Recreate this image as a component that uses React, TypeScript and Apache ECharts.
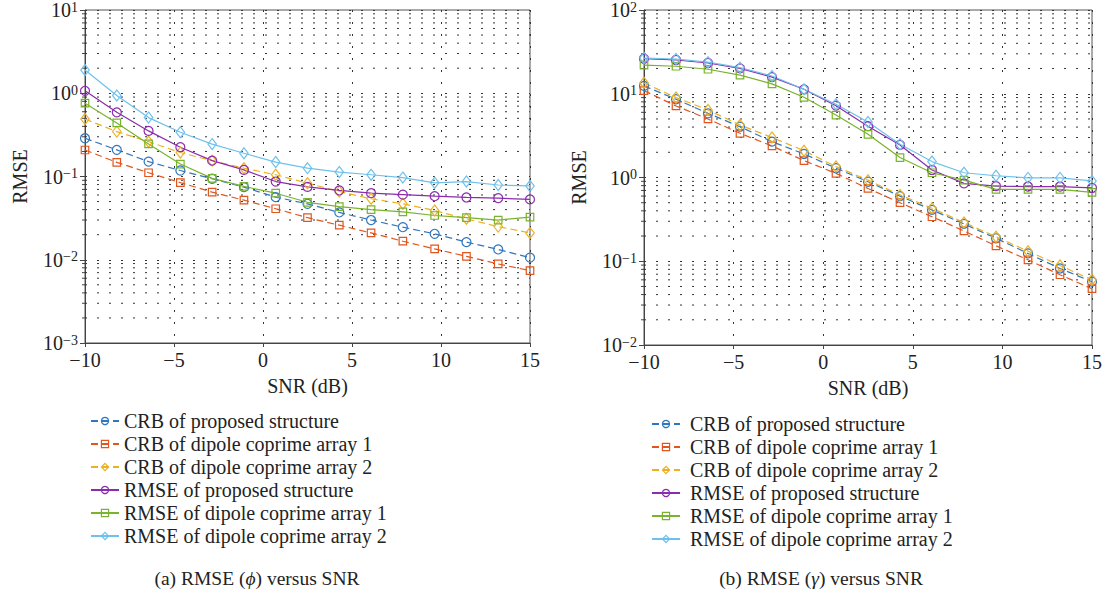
import React, { useEffect, useRef } from "react";
import * as echarts from "echarts";

const FONT = '"Liberation Serif", "Times New Roman", serif';

// SNR (dB) sample points
const snr = [-10, -8.214, -6.429, -4.643, -2.857, -1.071, 0.714, 2.5, 4.286, 6.071, 7.857, 9.643, 11.429, 13.214, 15];

// (a) RMSE (phi)
const phiCrbProposed = [0.288, 0.209, 0.151, 0.118, 0.094, 0.0744, 0.0565, 0.047, 0.037, 0.030, 0.0246, 0.0205, 0.0163, 0.0133, 0.0106];
const phiCrbArr1 = [0.208, 0.148, 0.111, 0.0845, 0.0648, 0.052, 0.041, 0.032, 0.026, 0.021, 0.0167, 0.0135, 0.011, 0.0089, 0.0074];
const phiCrbArr2 = [0.49, 0.346, 0.262, 0.194, 0.155, 0.126, 0.105, 0.083, 0.066, 0.054, 0.047, 0.039, 0.031, 0.025, 0.021];
const phiRmseProposed = [1.07, 0.59, 0.353, 0.225, 0.155, 0.12, 0.087, 0.075, 0.068, 0.063, 0.0605, 0.058, 0.056, 0.055, 0.053];
const phiRmseArr1 = [0.76, 0.44, 0.246, 0.141, 0.095, 0.076, 0.063, 0.049, 0.0435, 0.040, 0.0376, 0.034, 0.032, 0.030, 0.0325];
const phiRmseArr2 = [1.9, 0.94, 0.51, 0.34, 0.245, 0.19, 0.149, 0.126, 0.113, 0.105, 0.097, 0.084, 0.087, 0.079, 0.077];

// (b) RMSE (gamma)
const gamCrbProposed = [12.4, 8.6, 5.84, 4.04, 2.68, 1.91, 1.29, 0.89, 0.60, 0.41, 0.279, 0.188, 0.124, 0.082, 0.057];
const gamCrbArr1 = [10.9, 7.15, 5.0, 3.37, 2.38, 1.59, 1.12, 0.74, 0.50, 0.34, 0.23, 0.153, 0.104, 0.069, 0.047];
const gamCrbArr2 = [13.5, 9.0, 6.4, 4.24, 3.0, 2.09, 1.35, 0.93, 0.62, 0.43, 0.29, 0.196, 0.132, 0.089, 0.060];
const gamRmseProposed = [26.2, 25.3, 23.3, 20.1, 15.8, 11.3, 7.2, 4.1, 2.45, 1.23, 0.85, 0.79, 0.78, 0.78, 0.75];
const gamRmseArr1 = [22, 21.3, 19.6, 16.7, 13.1, 9.07, 5.57, 3.28, 1.73, 1.14, 0.93, 0.72, 0.72, 0.72, 0.665];
const gamRmseArr2 = [26.7, 26, 23.8, 20.5, 16.3, 11.3, 7.5, 4.6, 2.5, 1.55, 1.14, 1.05, 0.99, 0.99, 0.91];

const seriesNames = [
  "CRB of proposed structure",
  "CRB of dipole coprime array 1",
  "CRB of dipole coprime array 2",
  "RMSE of proposed structure",
  "RMSE of dipole coprime array 1",
  "RMSE of dipole coprime array 2",
];
const seriesColors = ["#3076BE", "#E0561E", "#EDB120", "#8B2CAD", "#7AB32E", "#6EC1EC"];
const seriesSymbols = ["circle", "rect", "diamond", "circle", "rect", "diamond"];
const seriesDashed = [true, true, true, false, false, false];

const xMin = -10;
const xMax = 15;
const xInterval = 5;
const leftYRange = [0.001, 10];
const rightYRange = [0.01, 100];
const captions = ["(a) RMSE (", "(b) RMSE ("];
const captionSymbols = ["ϕ", "γ"];

function minorValues(lo: number, hi: number) {
  const out: number[] = [];
  for (let d = lo; d < hi; d *= 10) {
    for (let m = 2; m <= 9; m++) out.push(+(m * d).toPrecision(3));
  }
  return out;
}

function symSize(s: string) {
  if (s === "circle") return 9;
  if (s === "rect") return 7.5;
  return [8.5, 11];
}

function makeSeries(idx: number, arrays: number[][]) {
  return arrays.map((vals, k) => {
    const c = seriesColors[k];
    return {
      type: "line",
      name: seriesNames[k],
      xAxisIndex: idx,
      yAxisIndex: idx,
      data: snr.map((x, i) => [x, vals[i]]),
      symbol: seriesSymbols[k],
      symbolSize: symSize(seriesSymbols[k]),
      showSymbol: true,
      color: c,
      lineStyle: { color: c, width: 1.2, type: seriesDashed[k] ? [7, 4] : "solid" },
      itemStyle: { color: "rgba(255,255,255,0)", borderColor: c, borderWidth: 1.2 },
      emphasis: { disabled: true },
      z: 5,
    };
  });
}

function gridSeries(idx: number, range: number[]) {
  return {
    type: "custom",
    name: "_grid" + idx,
    xAxisIndex: idx,
    yAxisIndex: idx,
    silent: true,
    z: 1,
    data: minorValues(range[0], range[1]).map((v) => [xMin, v]),
    renderItem: (params: any, api: any) => {
      const v = api.value(1);
      const p1 = api.coord([xMin, v]);
      const p2 = api.coord([xMax, v]);
      return {
        type: "group",
        children: [
          {
            type: "line",
            shape: { x1: p1[0], y1: p1[1], x2: p2[0], y2: p2[1] },
            style: { stroke: "#333", lineWidth: 1, lineDash: [2, 10] },
          },
          {
            type: "line",
            shape: { x1: p1[0] - 3, y1: p1[1], x2: p1[0], y2: p1[1] },
            style: { stroke: "#444", lineWidth: 1 },
          },
        ],
      };
    },
  };
}

const axisText = { fontFamily: FONT, fontSize: 20, color: "#222" };

function xAxis(idx: number) {
  return {
    type: "value",
    gridIndex: idx,
    min: xMin,
    max: xMax,
    interval: xInterval,
    name: "SNR (dB)",
    nameLocation: "middle",
    nameGap: 33,
    nameTextStyle: { ...axisText },
    axisLine: { onZero: false, lineStyle: { color: "#444", width: 1 } },
    axisTick: { show: true, length: 4, lineStyle: { color: "#444" } },
    axisLabel: {
      ...axisText,
      margin: 7,
      formatter: (v: number) => String(v).replace("-", "\u2212"),
    },
    splitLine: { show: true, lineStyle: { color: "#333", width: 1, type: [2, 10] } },
  };
}

function yAxis(idx: number, range: number[], nameGap: number) {
  return {
    type: "log",
    logBase: 10,
    gridIndex: idx,
    min: range[0],
    max: range[1],
    name: "RMSE",
    nameLocation: "middle",
    nameGap,
    nameTextStyle: { ...axisText },
    axisLine: { onZero: false, lineStyle: { color: "#444", width: 1 } },
    axisTick: { show: true, length: 5, lineStyle: { color: "#444" } },
    axisLabel: {
      margin: 7,
      formatter: (v: number) => {
        const e = Math.round(Math.log10(v));
        const es = e < 0 ? "\u2212" + -e : String(e);
        return "{b|10}{s|" + es + "}";
      },
      rich: {
        b: { fontFamily: FONT, fontSize: 20, color: "#222", verticalAlign: "bottom" },
        s: { fontFamily: FONT, fontSize: 14, color: "#222", verticalAlign: "top" },
      },
    },
    splitLine: { show: true, lineStyle: { color: "#333", width: 1, type: [2, 10] } },
  };
}

function legend(left: number, top: number, pad: number) {
  return {
    orient: "vertical",
    left,
    top,
    itemWidth: 28,
    itemHeight: 9,
    itemGap: 3,
    selectedMode: false,
    data: seriesNames,
    itemStyle: { color: "rgba(255,255,255,0)", borderColor: "inherit", borderWidth: 1.2 },
    textStyle: { fontFamily: FONT, fontSize: 20, color: "#222", lineHeight: 20, padding: [0, 0, 0, pad] },
  };
}

function caption(x: number, k: number) {
  return {
    type: "text",
    x,
    y: 578,
    style: {
      text: "{n|" + captions[k] + "}{i|" + captionSymbols[k] + "}{n|) versus SNR}",
      align: "center",
      verticalAlign: "middle",
      rich: {
        n: { fontFamily: FONT, fontSize: 19.5, fill: "#222" },
        i: { fontFamily: FONT, fontSize: 19.5, fontStyle: "italic", fill: "#222" },
      },
    },
  };
}

export default function App() {
  const ref = useRef<HTMLDivElement>(null);
  useEffect(() => {
    if (!ref.current) return;
    const chart = echarts.init(ref.current, null, { renderer: "svg" });
    const option: any = {
      animation: false,
      backgroundColor: "#fff",
      grid: [
        { left: 85, top: 10, width: 445, height: 333, show: true, borderColor: "#555", borderWidth: 1, backgroundColor: "transparent" },
        { left: 644, top: 10, width: 448, height: 335, show: true, borderColor: "#555", borderWidth: 1, backgroundColor: "transparent" },
      ],
      xAxis: [xAxis(0), xAxis(1)],
      yAxis: [yAxis(0, leftYRange, 55), yAxis(1, rightYRange, 55)],
      legend: [legend(85, 406, 0), legend(646, 409, 5)],
      graphic: [caption(257, 0), caption(821, 1)],
      series: [
        gridSeries(0, leftYRange),
        gridSeries(1, rightYRange),
        ...makeSeries(0, [phiCrbProposed, phiCrbArr1, phiCrbArr2, phiRmseProposed, phiRmseArr1, phiRmseArr2]),
        ...makeSeries(1, [gamCrbProposed, gamCrbArr1, gamCrbArr2, gamRmseProposed, gamRmseArr1, gamRmseArr2]),
      ],
    };
    chart.setOption(option);
    return () => chart.dispose();
  }, []);
  return (
    <div
      ref={ref}
      style={{ position: "absolute", left: 0, top: 0, width: 1109, height: 596, background: "#fff" }}
    />
  );
}
